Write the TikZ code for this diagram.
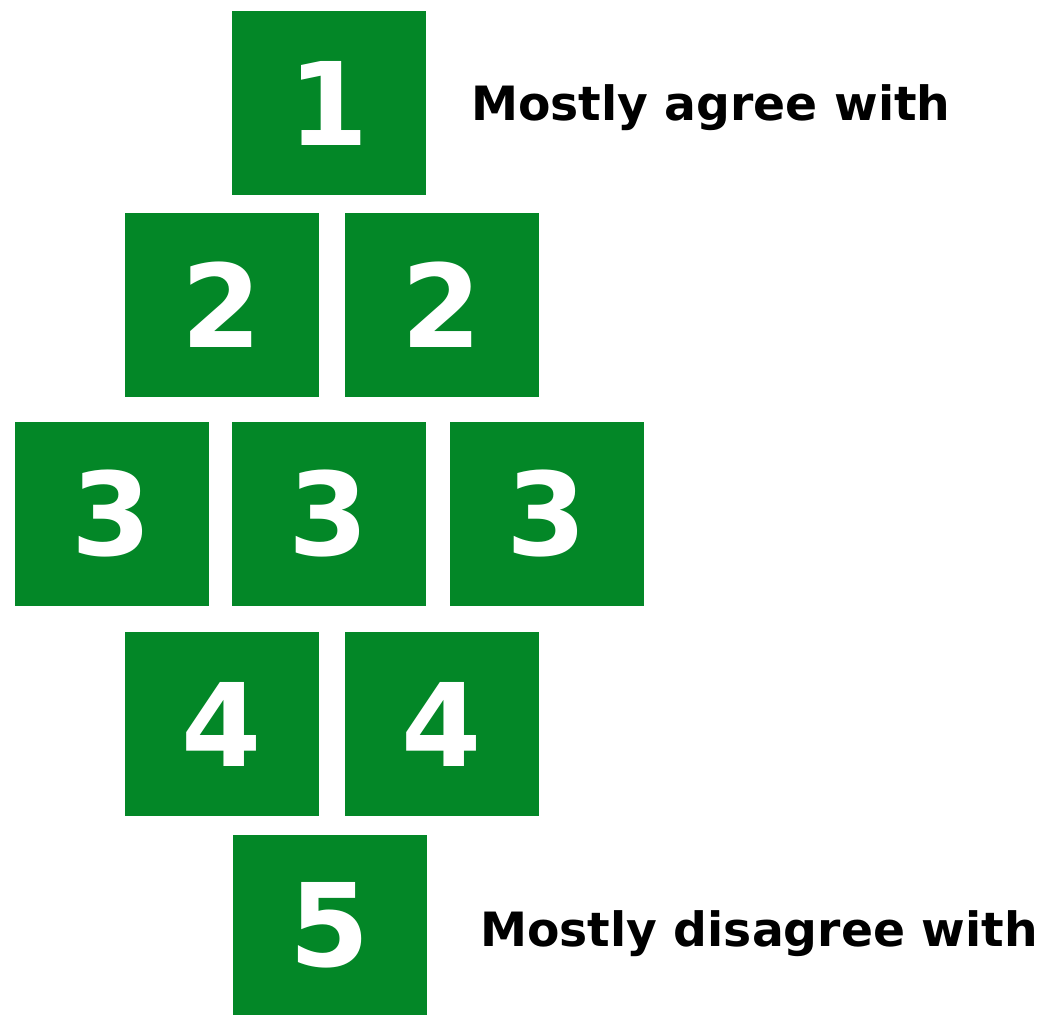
\documentclass[tikz,border=0pt]{standalone}
\usepackage{fontspec}
\setmainfont{DejaVu Sans}
\definecolor{leaf}{HTML}{038727}
\definecolor{ink}{HTML}{000000}

\begin{document}
\begin{tikzpicture}[x=0.025cm,y=-0.025cm,
  cell/.style={fill=leaf,text=white,inner sep=0pt,minimum width=4.85cm,minimum height=4.6cm,
    font=\bfseries\fontsize{82}{82}\selectfont},
  tag/.style={ink,inner sep=0pt,font=\bfseries\fontsize{33.6}{33.6}\selectfont}]
  \useasboundingbox (0,0) rectangle (1041,1015);

  % rows of the ranking grid
  \node[cell] (r1) at (329,103) {1};
  \foreach \x/\n in {222/a,442/b}
    \node[cell] (r2\n) at (\x,305) {2};
  \foreach \x/\n in {112/a,329/b,547/c}
    \node[cell] (r3\n) at (\x,514) {3};
  \foreach \x/\n in {222/a,442/b}
    \node[cell] (r4\n) at (\x,724) {4};
  \node[cell,minimum height=4.5cm] (r5) at (330,925) {5};

  \node[tag,anchor=west] (top) at (471,108) {Mostly agree with};
  \node[tag,anchor=west] (bottom) at (480,934) {Mostly disagree with};
\end{tikzpicture}
\end{document}
